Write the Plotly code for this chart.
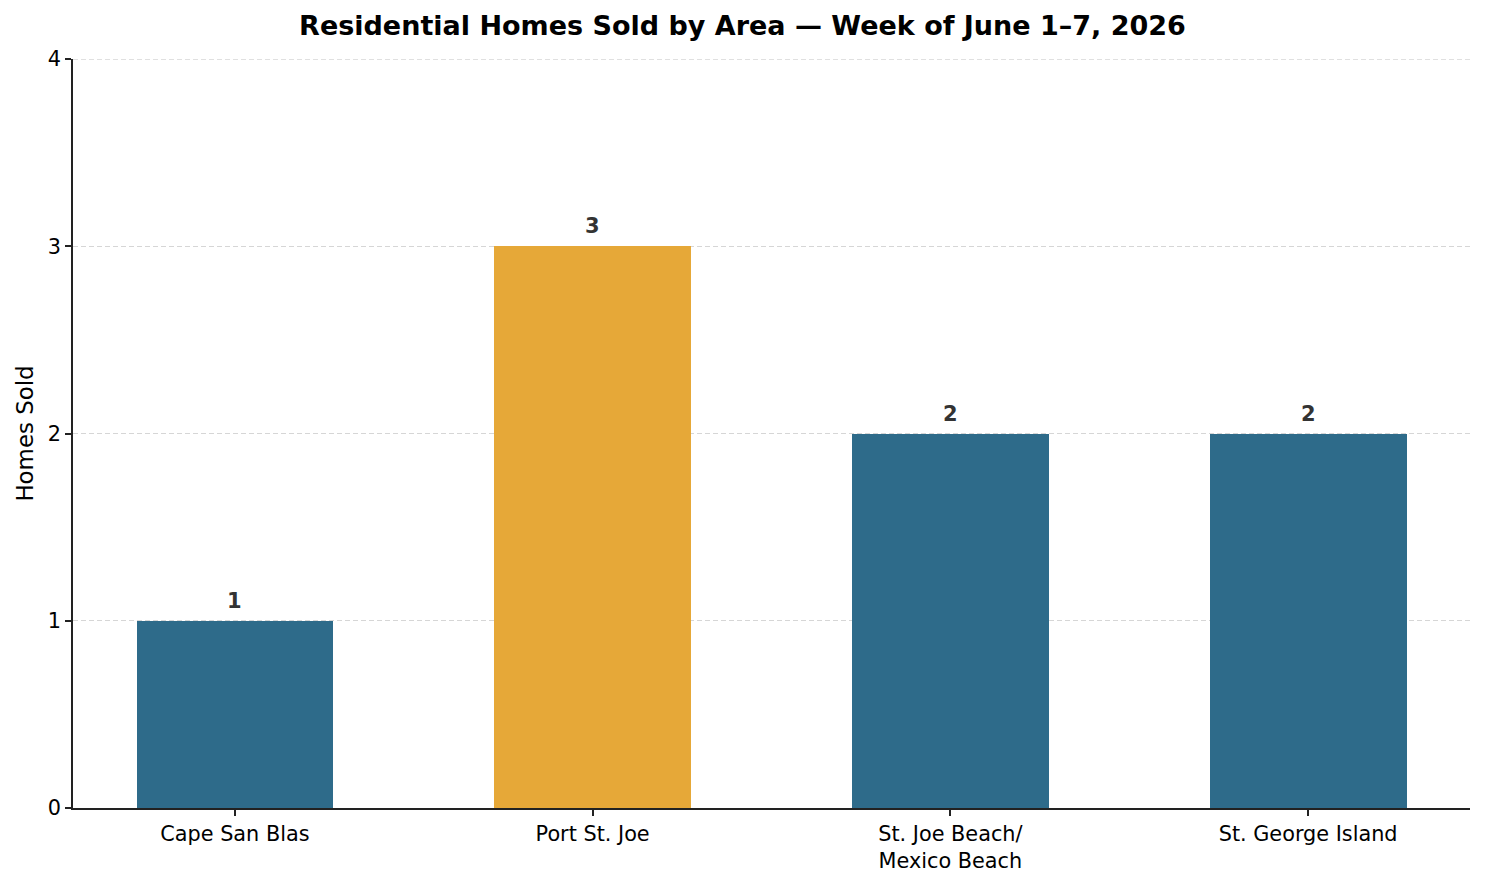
import plotly.graph_objects as go

areas = ["Cape San Blas", "Port St. Joe", "St. Joe Beach/<br>Mexico Beach", "St. George Island"]
homes_sold = [1, 3, 2, 2]
bar_colors = ["#2E6B8A", "#E6A838", "#2E6B8A", "#2E6B8A"]
y_ticks = [0, 1, 2, 3, 4]

x_pos = list(range(len(areas)))
FONT = "DejaVu Sans"
GRID = "#D6D6D6"

fig = go.Figure()
fig.add_trace(go.Bar(
    x=x_pos, y=homes_sold, width=0.55,
    marker=dict(color=bar_colors, line=dict(width=0)),
    hoverinfo="skip",
))

for xi, v in zip(x_pos, homes_sold):
    fig.add_annotation(x=xi, y=v, text=f"<b>{v}</b>", showarrow=False,
                       yanchor="bottom", yshift=6,
                       font=dict(family=FONT, size=21, color="#333333"))

# top gridline (plotly drops the gridline lying on the range edge)
fig.add_shape(type="line", xref="paper", x0=0, x1=1, yref="y",
              y0=y_ticks[-1], y1=y_ticks[-1], layer="below",
              line=dict(color=GRID, width=1.3, dash="5px,3px"))

fig.update_layout(
    width=1485, height=881,
    margin=dict(l=73, r=15, t=59, b=73, autoexpand=False),
    paper_bgcolor="white", plot_bgcolor="white",
    font=dict(family=FONT, size=21, color="#000000"),
    title=dict(text="<b>Residential Homes Sold by Area — Week of June 1–7, 2026</b>",
               x=0.5, xanchor="center", y=1 - 26 / 881, yanchor="middle",
               font=dict(family=FONT, size=27, color="#000000")),
    showlegend=False,
    bargap=0,
)
fig.update_xaxes(
    range=[-0.4525, 3.4525], tickmode="array", tickvals=x_pos, ticktext=areas,
    showline=True, linecolor="#222222", linewidth=1.5,
    ticks="outside", ticklen=6, tickcolor="#222222", tickwidth=1.5,
    showgrid=False, zeroline=False, tickfont=dict(size=20.8), automargin=False,
)
fig.update_yaxes(
    range=[0, 4], tickmode="array", tickvals=y_ticks,
    showline=True, linecolor="#222222", linewidth=1.5,
    ticks="outside", ticklen=6, tickcolor="#222222", tickwidth=1.5,
    showgrid=True, gridcolor=GRID, griddash="5px,3px", gridwidth=1.3,
    zeroline=False, tickfont=dict(size=20.8), automargin=False,
    title=dict(text="Homes Sold", font=dict(size=22.9), standoff=8),
)

fig.write_html("out.html")
